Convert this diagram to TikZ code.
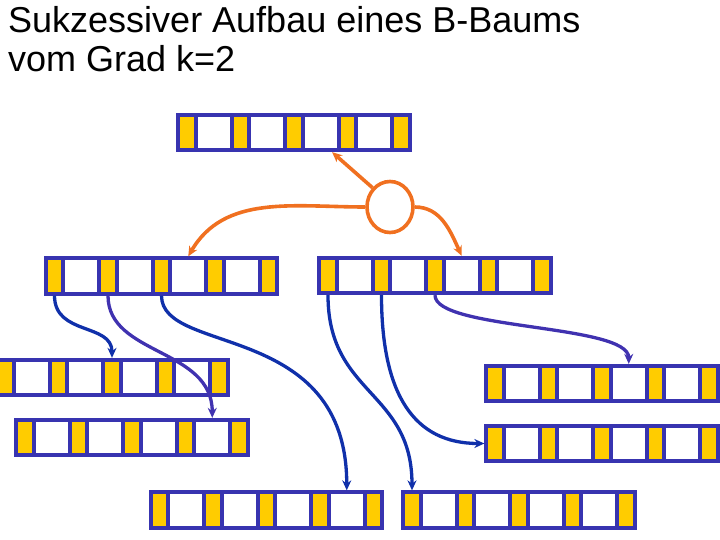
\documentclass[tikz,border=0pt]{standalone}
\usepackage{fontspec}
\setmainfont{Liberation Sans}
\usepackage{xcolor}
\usetikzlibrary{arrows.meta,shapes.geometric}

\definecolor{seitenblau}{RGB}{56,52,176}
\definecolor{pfeilblau}{RGB}{16,48,170}
\definecolor{pfeillila}{RGB}{64,50,176}
\definecolor{gelb}{RGB}{255,204,0}
\definecolor{orange}{RGB}{240,112,32}

\tikzset{
  zeiger/.style={draw=seitenblau, fill=gelb, line width=3.8pt, inner sep=0pt,
    minimum width=17.5pt, minimum height=35.5pt},
  schluessel/.style={zeiger, fill=white, minimum width=36pt},
  verweis/.style={->, line width=3.3pt, draw=pfeilblau},
  zuweisung/.style={->, line width=3.6pt, draw=orange},
  titel/.style={anchor=base west, inner sep=0pt, font=\fontsize{36}{40}\selectfont}
}

\begin{document}
\begin{tikzpicture}[>={Stealth[length=10pt,width=9pt]}, x=1pt, y=1pt]
\useasboundingbox (0,0) rectangle (720,-540);

\node[titel] (t1) at (8,-33) {Sukzessiver Aufbau eines B-Baums};
\node[titel] (t2) at (8,-72) {vom Grad k=2};

% Seiten: Name / erster Zeiger x / Mitte y
\foreach \n/\x/\y in {W/187/132.5, L/54.5/276, R/328/275.5,
    B1/5/377.5, B2/25/437.5, B3/495/383.5, B4/495/443.5,
    B5/159.5/510, B6/412/510} {
  \foreach \i in {0,...,4}
    \node[zeiger] (\n-p\i) at (\x+\i*53.5,-\y) {};
  \foreach \i in {1,...,4}
    \node[schluessel] (\n-k\i) at (\x+\i*53.5-26.75,-\y) {};
}

\node[ellipse, draw=orange, line width=3.6pt, minimum width=46pt,
  minimum height=51pt] (K) at (390,-207) {};

\draw[zuweisung] (K.north west) -- (W-k3.-60);
\draw[zuweisung] (K.west) to[out=180, in=60] (L-k3.north);
\draw[zuweisung] (K.east) to[out=0, in=115] (R-k3.north);

\draw[verweis] (L-p0.south) to[out=-90, in=90, out distance=40pt, in distance=35pt] (B1-p2.north);
\draw[verweis, draw=pfeillila] (L-p1.south) to[out=-90, in=90, out distance=60pt, in distance=70pt] (B2-k4.north);
\draw[verweis] (L-p2.south) to[out=-90, in=90, out distance=60pt, in distance=170pt] (B5-k4.north);

\draw[verweis] (R-p0.south) to[out=-90, in=90, out distance=100pt, in distance=100pt] (B6-p0.north);
\draw[verweis] (R-p1.south) to[out=-90, in=180, out distance=100pt, in distance=70pt] (B4-p0.west);
\draw[verweis, draw=pfeillila] (R-p2.south) to[out=-90, in=90, out distance=35pt, in distance=40pt] (B3-k3.north);

\end{tikzpicture}
\end{document}
